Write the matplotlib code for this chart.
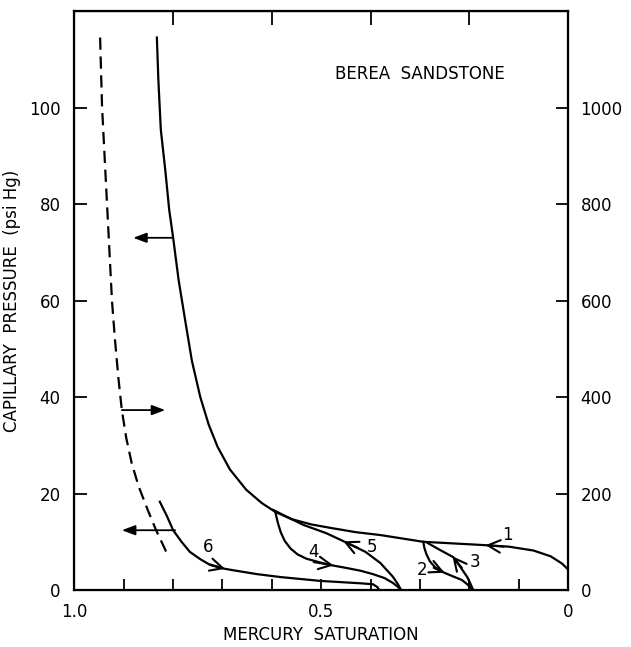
import numpy as np
import matplotlib
matplotlib.use("Agg")
import matplotlib.pyplot as plt

# main drainage curve (solid) and imbibition curve (dashed)
main_sat = [0.833, 0.830, 0.825, 0.816, 0.808, 0.800, 0.789, 0.775, 0.762, 0.745,
            0.728, 0.710, 0.685, 0.652, 0.620, 0.593, 0.560, 0.520, 0.482, 0.430,
            0.380, 0.293, 0.220, 0.167, 0.120, 0.070, 0.035, 0.012, 0.0]
main_pc = [114.5, 105.8, 95.4, 87.1, 78.8, 73.0, 64.3, 55.5, 47.5, 40.0,
           34.3, 29.7, 25.0, 20.8, 18.0, 16.2, 14.7, 13.6, 12.9, 12.0,
           11.4, 10.0, 9.6, 9.3, 9.0, 8.2, 7.0, 5.5, 4.3]
dash_sat = [0.948, 0.946, 0.944, 0.939, 0.934, 0.929, 0.924, 0.918, 0.911, 0.904,
            0.895, 0.884, 0.870, 0.853, 0.835, 0.818, 0.810]
dash_pc = [114.5, 107.0, 100.0, 90.0, 80.0, 70.0, 60.0, 52.0, 44.0, 37.3,
           31.5, 26.3, 21.5, 17.0, 12.5, 8.8, 7.0]

# scanning curves
c2_sat = [0.293, 0.291, 0.287, 0.280, 0.270, 0.253, 0.232, 0.215, 0.204, 0.196, 0.192]
c2_pc = [10.0, 8.8, 7.5, 6.0, 4.8, 3.7, 2.8, 2.1, 1.2, 0.4, 0.0]
c3_sat = [0.192, 0.197, 0.204, 0.218, 0.232, 0.259, 0.285]
c3_pc = [0.0, 1.2, 2.7, 4.8, 6.8, 8.3, 9.8]
c4_sat = [0.593, 0.588, 0.582, 0.574, 0.562, 0.548, 0.530, 0.505, 0.482, 0.450,
          0.420, 0.395, 0.372, 0.355, 0.345, 0.338]
c4_pc = [16.2, 14.0, 12.0, 10.2, 8.6, 7.4, 6.5, 5.8, 5.2, 4.6,
         4.0, 3.3, 2.5, 1.5, 0.7, 0.0]
c5_sat = [0.338, 0.345, 0.355, 0.380, 0.410, 0.448, 0.490, 0.536, 0.570, 0.597]
c5_pc = [0.0, 1.3, 2.8, 5.6, 7.9, 9.8, 11.8, 13.5, 15.2, 16.6]
c6_sat = [0.827, 0.812, 0.800, 0.783, 0.766, 0.745, 0.725, 0.700, 0.678, 0.630,
          0.583, 0.502, 0.420, 0.395, 0.386, 0.382]
c6_pc = [18.3, 15.2, 12.4, 10.0, 7.9, 6.4, 5.2, 4.5, 4.1, 3.3,
         2.7, 1.9, 1.4, 1.2, 0.6, 0.0]

x_ticks = [1.0, 0.9, 0.8, 0.7, 0.6, 0.5, 0.4, 0.3, 0.2, 0.1, 0.0]
x_labels = ["1.0", "", "", "", "", "0.5", "", "", "", "", "0"]
y_ticks = [0, 20, 40, 60, 80, 100]
y2_ticks = [0, 200, 400, 600, 800, 1000]

# chevrons on curves: (tip, tail)
chevrons = [
    ((0.167, 9.3), (0.130, 9.0)),
    ((0.250, 3.6), (0.272, 4.6)),
    ((0.234, 7.0), (0.215, 4.6)),
    ((0.475, 5.1), (0.515, 5.8)),
    ((0.455, 10.1), (0.425, 8.7)),
    ((0.695, 4.4), (0.725, 5.3)),
]
curve_labels = [("1", 0.122, 11.4), ("2", 0.295, 4.1), ("3", 0.188, 5.8),
                ("4", 0.516, 7.9), ("5", 0.397, 9.0), ("6", 0.730, 9.0)]

fig = plt.figure(figsize=(6.31, 6.47), dpi=100)
ax = fig.add_axes([0.118, 0.088, 0.782, 0.895])

lw = 1.6
ax.plot(main_sat, main_pc, color="black", lw=lw)
ax.plot(dash_sat, dash_pc, color="black", lw=lw, linestyle=(0, (5.5, 3)))
for xs, ys in [(c2_sat, c2_pc), (c3_sat, c3_pc), (c4_sat, c4_pc),
               (c5_sat, c5_pc), (c6_sat, c6_pc)]:
    ax.plot(xs, ys, color="black", lw=lw)

for tip, tail in chevrons:
    ax.annotate("", xy=tip, xytext=tail,
                arrowprops=dict(arrowstyle="->,head_length=0.9,head_width=0.45",
                                lw=1.5, color="black", shrinkA=0, shrinkB=0))

for txt, x, y in curve_labels:
    ax.text(x, y, txt, fontsize=12, ha="center", va="center")

# horizontal arrows indicating which axis a curve belongs to
for x0, x1, y in [(0.800, 0.881, 73.0), (0.904, 0.816, 37.3), (0.796, 0.904, 12.4)]:
    ax.annotate("", xy=(x1, y), xytext=(x0, y),
                arrowprops=dict(arrowstyle="-|>,head_length=0.8,head_width=0.3",
                                lw=1.3, color="black", fc="black",
                                shrinkA=0, shrinkB=0))

ax.set_xlim(1.0, 0.0)
ax.set_ylim(0, 120)
ax.set_xticks(x_ticks)
ax.set_xticklabels(x_labels)
ax.set_yticks(y_ticks)
ax.tick_params(axis="both", direction="in", width=1.3, labelsize=12)
ax.tick_params(axis="y", length=9, pad=10)
ax.tick_params(axis="x", length=8, pad=9)
for s in ax.spines.values():
    s.set_linewidth(1.6)

# top ticks
top = ax.secondary_xaxis("top")
top.set_xticks([0.8, 0.6, 0.4, 0.2])
top.set_xticklabels([])
top.tick_params(direction="in", length=10, width=1.3)

ax2 = ax.twinx()
ax2.set_ylim(0, 1200)
ax2.set_yticks(y2_ticks)
ax2.tick_params(axis="y", direction="in", length=9, width=1.3, labelsize=12, pad=9)

ax.set_xlabel("MERCURY  SATURATION", fontsize=12, labelpad=4)
ax.set_ylabel("CAPILLARY  PRESSURE  (psi Hg)", fontsize=12, labelpad=6)
ax.text(0.30, 107, "BEREA  SANDSTONE", fontsize=12, ha="center", va="center")

fig.savefig("out.png", dpi=100)
